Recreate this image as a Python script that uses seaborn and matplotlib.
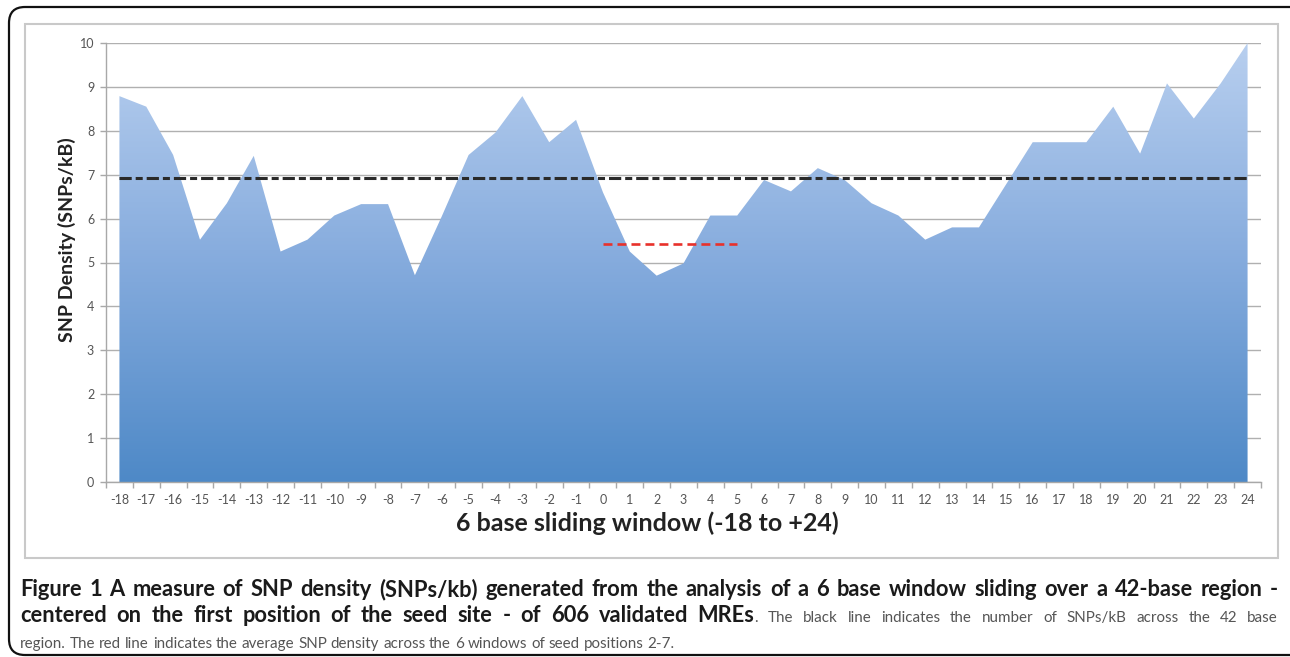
import numpy as np
import pandas as pd
import matplotlib
matplotlib.use("Agg")
import matplotlib.pyplot as plt
import seaborn as sns
from matplotlib.patches import FancyBboxPatch, Rectangle
from matplotlib.colors import LinearSegmentedColormap
from matplotlib.transforms import IdentityTransform

# window start positions relative to the seed site
positions = list(range(-18, 25))
# SNPs/kB per 6 base window
snp_density = [8.79, 8.55, 7.45, 5.52, 6.35, 7.43, 5.25, 5.52, 6.07, 6.33,
               6.33, 4.71, 6.05, 7.45, 7.96, 8.79, 7.74, 8.25, 6.60, 5.25,
               4.70, 4.98, 6.07, 6.07, 6.88, 6.62, 7.15, 6.88, 6.35, 6.07,
               5.52, 5.80, 5.80, 6.77, 7.74, 7.74, 7.74, 8.55, 7.48, 9.08,
               8.28, 9.08, 10.0]
genome_avg = 6.93          # black line, whole 42 base region
seed_avg = 5.42            # red line, seed positions 2-7
seed_windows = [0, 5]

x_title = "6 base sliding window (-18 to +24)"
y_title = "SNP Density (SNPs/kB)"

sns.set_style("white")
plt.rcParams['font.family'] = ['Lato', 'DejaVu Sans']

df = pd.DataFrame({"window": positions, "density": snp_density})

W, H = 1290, 657
fig = plt.figure(figsize=(W / 100, H / 100), dpi=100)
ax = fig.add_axes([106 / W, 1 - 482 / H, (1261 - 106) / W, (482 - 43) / H])

# area with vertical gradient (Excel style)
poly = ax.fill_between(df["window"], 0, df["density"], color="none", lw=0)
grad = np.linspace(0, 1, 256).reshape(-1, 1)
cmap = LinearSegmentedColormap.from_list("xl", ["#4e89c7", "#85abdd", "#b8cfef"])
img = ax.imshow(grad, extent=[-18, 24, 0, 10], origin="lower", aspect="auto",
                cmap=cmap, zorder=1, interpolation="bilinear")
img.set_clip_path(poly.get_paths()[0], ax.transData)

# reference lines
sns.lineplot(x=[positions[0], positions[-1]], y=[genome_avg, genome_avg], ax=ax,
             color="#2a2a2a", lw=2.2, linestyle=(0, (4, 1.3, 2.3, 1.3)),
             zorder=3, legend=False)
sns.lineplot(x=seed_windows, y=[seed_avg, seed_avg], ax=ax,
             color="#e8312b", lw=1.9, linestyle=(0, (3.4, 1.9)),
             zorder=3, legend=False)

ax.set_xlim(-18.5, 24.5)
ax.set_ylim(0, 10)
ax.set_xticks(positions)
ax.set_xticklabels([str(p) for p in positions])
ax.set_xticks(np.arange(-18.5, 25, 1), minor=True)
ax.set_yticks(range(0, 11))
ax.yaxis.grid(True, color="#b0b0b0", lw=1.0)
ax.xaxis.grid(False)
ax.set_axisbelow(True)

for s in ["top", "right"]:
    ax.spines[s].set_visible(False)
for s in ["left", "bottom"]:
    ax.spines[s].set_color("#a8a8a8")
    ax.spines[s].set_linewidth(1.0)

ax.tick_params(axis="x", which="major", length=0, pad=9, labelsize=9,
               labelcolor="#555555")
ax.tick_params(axis="x", which="minor", length=4.5, width=1, color="#a8a8a8",
               direction="out", bottom=True)
ax.tick_params(axis="y", length=4.5, width=1, color="#a8a8a8", pad=4,
               labelsize=9, labelcolor="#555555", left=True)

ax.set_xlabel(x_title, fontsize=18, weight="bold", color="#222222")
ax.set_ylabel(y_title, fontsize=14, weight="bold", color="#222222")
ax.xaxis.set_label_coords((647 - 106) / 1155, (482 - 523) / 439)
ax.yaxis.set_label_coords((67 - 106) / 1155, (482 - 240) / 439)
ax.xaxis.label.set_va("center")
ax.yaxis.label.set_va("center")

# chart frame and outer rounded box
fig.patches.append(Rectangle((25, H - 558), 1278 - 25, 558 - 24, transform=IdentityTransform(),
                             fill=False, ec="#c9c9c9", lw=1.5, figure=fig))
fig.patches.append(FancyBboxPatch((9, H - 655), 1300, 655 - 7,
                                  boxstyle="round,pad=0,rounding_size=16",
                                  transform=IdentityTransform(), fill=False,
                                  ec="#111111", lw=1.6, figure=fig))

# caption, justified like the journal layout
cap_font = ["Lato", "DejaVu Sans"]
renderer = fig.canvas.get_renderer()
sizes = {"bold": 12.0, "normal": 12.0}
colors = {"bold": "#1a1a1a", "normal": "#555555"}
weights = {"bold": "bold", "normal": "normal"}


def seg_width(text, style, size=None):
    t = fig.text(0, 0, text, fontsize=size or sizes[style], family=cap_font,
                 weight=weights[style], color=colors[style])
    w = t.get_window_extent(renderer).width
    t.remove()
    return w


def words_of(text, style):
    return [[(w, style)] for w in text.split()]


def place_line(words, y, x0, x1, justify):
    widths = [sum(seg_width(s, st) for s, st in wd) for wd in words]
    if justify:
        gap = (x1 - x0 - sum(widths)) / (len(words) - 1)
    else:
        gap = seg_width("a b", "normal") - seg_width("ab", "normal")
    x = x0
    for wd, wdw in zip(words, widths):
        xx = x
        for s, st in wd:
            fig.text(xx / W, 1 - y / H, s, fontsize=sizes[st], family=cap_font,
                     weight=weights[st], color=colors[st], va="baseline", ha="left")
            xx += seg_width(s, st)
        x += wdw + gap


line1_text = ("Figure 1 A measure of SNP density (SNPs/kb) generated from the analysis "
              "of a 6 base window sliding over a 42-base region -")
line3_text = ("region. The red line indicates the average SNP density across the 6 "
              "windows of seed positions 2-7.")

# fit font sizes to the widths seen in the figure
sizes["bold"] = 12.0 * 1200 / seg_width(line1_text, "bold", 12.0)
sizes["normal"] = 12.0 * 650 / seg_width(line3_text, "normal", 12.0)

line1 = words_of(line1_text, "bold")
line2 = words_of("centered on the first position of the seed site - of 606 validated", "bold")
line2 += [[("MREs", "bold"), (".", "normal")]]
line2 += words_of("The black line indicates the number of SNPs/kB across the 42 base", "normal")
line3 = words_of(line3_text, "normal")

place_line(line1, 596, 20, 1278, True)
place_line(line2, 622, 20, 1278, True)
place_line(line3, 648, 20, 1278, False)

fig.savefig("out.png", dpi=100)
